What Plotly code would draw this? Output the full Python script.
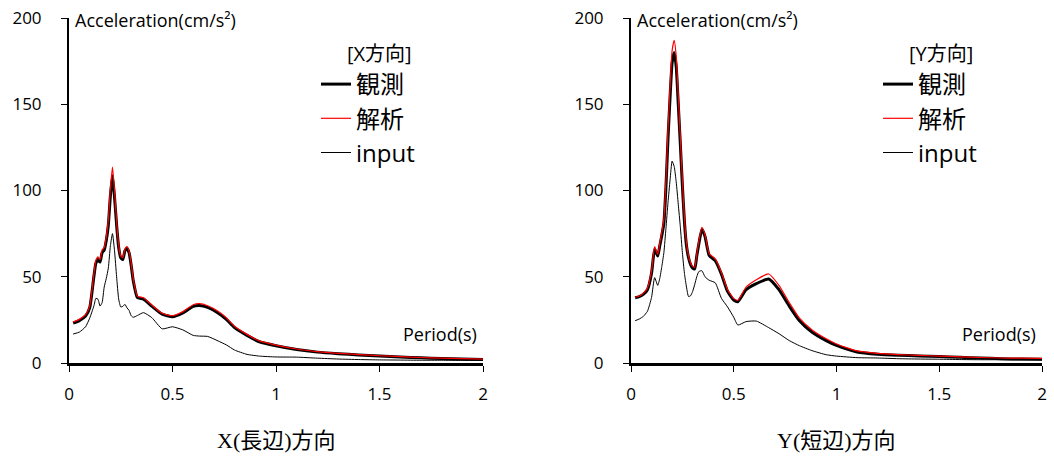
import plotly.graph_objects as go

# Response spectra (acceleration vs period), X direction
period_x = [0.02, 0.05, 0.08, 0.1, 0.12, 0.13, 0.14, 0.15, 0.16, 0.17, 0.18, 0.19, 0.2,
            0.21, 0.22, 0.23, 0.24, 0.25, 0.26, 0.27, 0.28, 0.29, 0.3, 0.31, 0.33, 0.36,
            0.4, 0.45, 0.5, 0.55, 0.6, 0.63, 0.67, 0.72, 0.76, 0.8, 0.86, 0.92, 1.0, 1.1,
            1.2, 1.3, 1.4, 1.5, 1.6, 1.7, 1.8, 1.9, 2.0]
obs_x = [23.2, 24.6, 27.2, 32, 50, 58, 60, 58.5, 64, 65.5, 71, 80, 97,
         108.5, 96, 80, 67, 61, 60, 65, 66.5, 64, 57, 48, 38, 37,
         33, 28.3, 26.8, 29, 32.8, 33.3, 32.2, 29, 25.3, 20.5, 16, 12.3, 10, 7.8,
         6.3, 5.4, 4.7, 4.0, 3.5, 3.0, 2.6, 2.3, 2.0]
ana_x = [23.8, 25.3, 28, 33, 51.5, 59.5, 61.5, 60, 65.5, 67, 73, 83, 101,
         113.5, 100, 82, 68.5, 62, 61, 66, 67.5, 65, 58, 49, 38.8, 37.8,
         33.6, 28.8, 27.4, 29.8, 33.8, 34.4, 33.2, 30, 26.2, 21.3, 16.6, 12.8, 10.4, 8.1,
         6.6, 5.6, 4.9, 4.2, 3.7, 3.2, 2.8, 2.5, 2.2]
inp_x = [16.8, 17.9, 21, 26, 33, 37.5, 37, 33, 35, 44, 49, 55, 68,
         75, 65, 50, 37, 32.5, 32.8, 34, 32, 30.5, 27.5, 26.5, 27.5, 29.2,
         26.3, 19.8, 21, 19.2, 16, 15.6, 15.4, 12.8, 10.5, 7.5, 5, 4, 3.5, 3.4,
         2.8, 2.3, 2.0, 1.8, 1.7, 1.6, 1.6, 1.5, 1.5]

# Response spectra, Y direction
period_y = [0.02, 0.04, 0.06, 0.08, 0.1, 0.115, 0.13, 0.14, 0.15, 0.16, 0.17, 0.18, 0.19,
            0.2, 0.21, 0.22, 0.23, 0.24, 0.25, 0.26, 0.27, 0.28, 0.29, 0.3, 0.31, 0.32,
            0.33, 0.345, 0.36, 0.38, 0.41, 0.44, 0.47, 0.5, 0.52, 0.56, 0.61, 0.67, 0.72,
            0.77, 0.82, 0.88, 0.95, 1.0, 1.1, 1.2, 1.3, 1.4, 1.5, 1.6, 1.7, 1.8, 1.9, 2.0]
obs_y = [37.8, 38.5, 39.8, 42.5, 52, 66, 62, 68, 74, 81, 102, 130, 154,
         174, 180, 172, 150, 127, 103, 82, 68, 61, 57, 55, 54.5, 62,
         69, 77.5, 73.5, 62.5, 59.3, 51.5, 41.5, 36.5, 35.5, 42.5, 46, 48.7, 42.5,
         33, 24.5, 18, 13, 10.2, 6.4, 5.1, 4.5, 4.1, 3.7, 3.3, 2.9, 2.5, 2.3, 2.2]
ana_y = [38, 38.8, 40.5, 43.5, 53.5, 67.5, 63, 69.5, 76, 83.5, 106, 135, 160,
         181, 187, 178, 155, 131, 106, 84, 69.5, 62, 58, 56, 55.5, 63,
         70.5, 78.7, 74.5, 63.5, 60.3, 52.5, 42.5, 37.3, 36.3, 44, 48.3, 51.6, 45,
         35, 26, 19.3, 14, 11, 7, 5.6, 4.9, 4.4, 4.0, 3.6, 3.2, 2.9, 2.8, 2.7]
inp_y = [24.5, 25.5, 27, 30, 38, 49.5, 45, 49, 56, 64, 78, 93, 106,
         117, 114, 105, 92, 79, 64, 52, 44, 38.5, 39, 41.5, 45.5, 50,
         53, 53.5, 50, 48, 46.5, 37.5, 32.5, 26.5, 22, 24, 24.3, 20.5, 17,
         13, 10, 7.2, 4.8, 4.0, 3.1, 2.9, 2.5, 2.3, 2.2, 2.0, 1.9, 1.9, 1.8, 1.8]

series_names = ["観測", "解析", "input"]
legend_titles = ["[X方向]", "[Y方向]"]
captions = ["X(長辺)方向", "Y(短辺)方向"]
x_ticks = [0, 0.5, 1, 1.5, 2]
x_tick_text = ["0", "0.5", "1", "1.5", "2"]
y_ticks = [0, 50, 100, 150, 200]

SANS = "Open Sans, Noto Sans CJK JP, sans-serif"
SERIF = "Liberation Serif, Noto Sans CJK JP, serif"

styles = [dict(color="black", width=3), dict(color="#ff0000", width=1.2),
          dict(color="black", width=1)]

fig = go.Figure()

panels = [
    ("x", "y", "legend", period_x, [obs_x, ana_x, inp_x]),
    ("x2", "y2", "legend2", period_y, [obs_y, ana_y, inp_y]),
]
for xa, ya, leg, per, values in panels:
    for name, vals, st in zip(series_names, values, styles):
        fig.add_trace(go.Scatter(
            x=per, y=vals, name=name, mode="lines", xaxis=xa, yaxis=ya,
            legend=leg, line=dict(color=st["color"], width=st["width"],
                                  shape="spline", smoothing=0.5),
            hoverinfo="x+y+name"))

H = 470.0
W = 1054.0
dom_x1 = [69 / W, 483 / W]
dom_x2 = [631 / W, 1042 / W]
dom_y = [(H - 363) / H, (H - 18) / H]

axis_common = dict(showgrid=False, zeroline=False, showline=True, linecolor="black",
                   ticks="outside", ticklen=6, tickwidth=1, tickcolor="black",
                   automargin=False,
                   tickfont=dict(family=SANS, size=17, color="black"))

xaxis_style = dict(axis_common, range=[0, 2], tickvals=x_ticks, ticktext=x_tick_text,
                   linewidth=2.5, ticklabelstandoff=8)
yaxis_style = dict(axis_common, range=[0, 200], tickvals=y_ticks, linewidth=2,
                   ticklabelstandoff=16)

legend_style = dict(font=dict(family=SANS, size=24, color="black"),
                    bgcolor="rgba(0,0,0,0)", borderwidth=0, itemwidth=30,
                    tracegroupgap=0, xanchor="left", yanchor="top")

fig.update_layout(
    width=1054, height=470,
    margin=dict(l=0, r=0, t=0, b=0, autoexpand=False),
    paper_bgcolor="white", plot_bgcolor="white",
    xaxis=dict(xaxis_style, domain=dom_x1, anchor="y"),
    yaxis=dict(yaxis_style, domain=dom_y, anchor="x"),
    xaxis2=dict(xaxis_style, domain=dom_x2, anchor="y2"),
    yaxis2=dict(yaxis_style, domain=dom_y, anchor="x2"),
    legend=dict(legend_style, x=316 / W, y=(H - 62) / H),
    legend2=dict(legend_style, x=878 / W, y=(H - 62) / H),
)

annotations = []
for i, (left, right) in enumerate([(dom_x1[0], dom_x1[1]), (dom_x2[0], dom_x2[1])]):
    # vertical axis title at the top of the axis
    annotations.append(dict(text="Acceleration(cm/s²)", xref="paper", yref="paper",
                            x=left + 4 / W, y=(H - 20) / H, xanchor="left",
                            yanchor="middle", showarrow=False,
                            font=dict(family=SANS, size=18, color="black")))
    # horizontal axis title above the right end of the axis
    annotations.append(dict(text="Period(s)", xref="paper", yref="paper",
                            x=right - 4 / W, y=(H - 334) / H, xanchor="right",
                            yanchor="middle", showarrow=False,
                            font=dict(family=SANS, size=18, color="black")))
    # legend heading
    annotations.append(dict(text=legend_titles[i], xref="paper", yref="paper",
                            x=(left * W + 276) / W, y=(H - 53) / H,
                            xanchor="left", yanchor="middle", showarrow=False,
                            font=dict(family=SANS, size=20, color="black")))
    # caption under each chart
    annotations.append(dict(text=captions[i], xref="paper", yref="paper",
                            x=(left + right) / 2, y=(H - 440) / H,
                            xanchor="center", yanchor="middle", showarrow=False,
                            font=dict(family=SERIF, size=22, color="black")))
fig.update_layout(annotations=annotations)

fig.write_html("out.html")
